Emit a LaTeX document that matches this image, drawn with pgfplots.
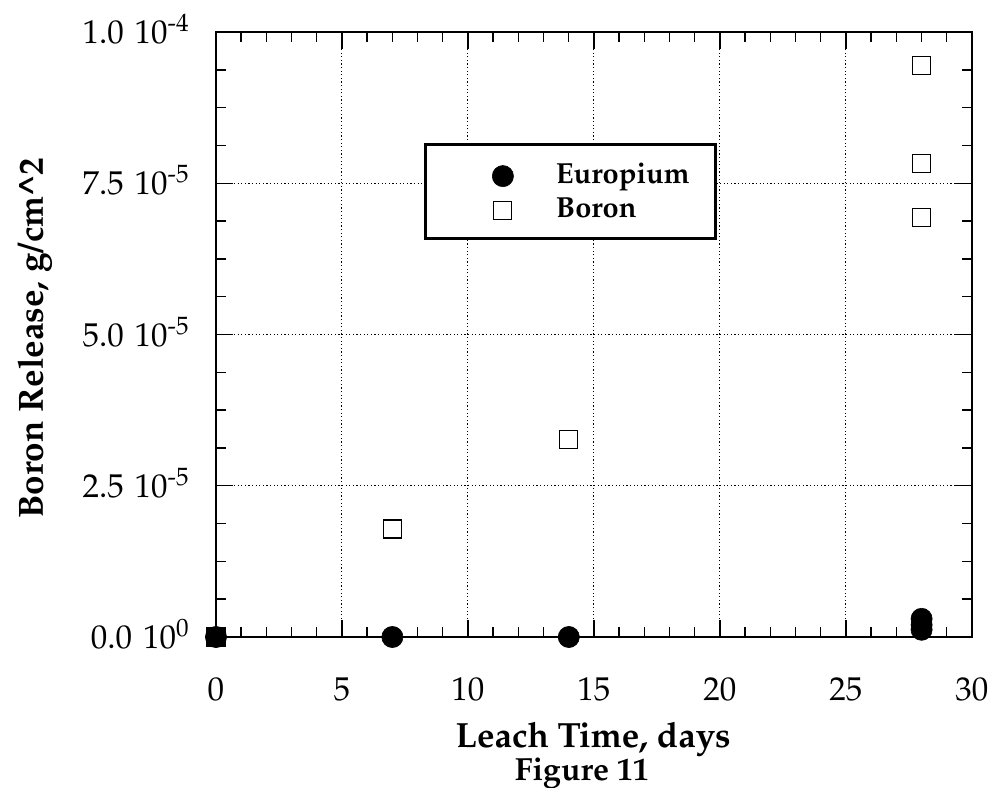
\documentclass[border=0pt]{standalone}
\usepackage[T1]{fontenc}
\usepackage{mathpazo}
\usepackage{pgfplots}
\pgfplotsset{compat=1.18}
\pgfplotsset{myleg/.style={legend image code/.code={\path (0pt,0pt) (38pt,0pt); \draw[##1] plot coordinates {(30pt,3.7pt)};}}}
\newcommand{\tl}[2]{#1\hspace{0.33em}10\textsuperscript{#2}}
\begin{document}
\begin{tikzpicture}
\begin{axis}[
  width=378pt, height=302.5pt, scale only axis,
  xmin=0, xmax=30, ymin=0, ymax=1e-4,
  xtick={0,5,10,15,20,25,30},
  ytick={0,2.5e-5,5e-5,7.5e-5,1e-4},
  yticklabels={\tl{0.0}{0}, \tl{2.5}{-5}, \tl{5.0}{-5}, \tl{7.5}{-5}, \tl{1.0}{-4}},
  scaled y ticks=false,
  minor x tick num=4, minor y tick num=3,
  tick align=inside,
  major tick length=8.5pt, minor tick length=5pt,
  tick style={black, line width=0.7pt},
  axis line style={line width=1pt},
  grid=major,
  major grid style={black, line width=0.5pt, dash pattern=on 0.6pt off 1.2pt},
  tick label style={font=\fontsize{16.5}{18}\selectfont},
  xticklabel style={inner sep=0pt, anchor=base, yshift=-31.5pt},
  yticklabel style={inner sep=0pt, anchor=base east, xshift=-13pt, yshift=-5.8pt},
  clip=false,
  legend style={at={(rel axis cs:0.275,0.8165)}, anchor=north west, draw=black,
    line width=1.5pt, inner xsep=8pt, inner ysep=6.5pt,
    font=\bfseries\fontsize{14.5}{17}\selectfont,
    nodes={anchor=base west, text height=11pt, text depth=2pt, inner ysep=2pt, inner xsep=4.8pt},
    row sep=0pt,
    /tikz/every odd column/.append style={column sep=13pt}},
]
\addplot[only marks, mark=*, black, mark size=5.3pt, mark options={line width=0.3pt}, myleg]
  coordinates {(0,0) (7,0) (14,0) (28,3.0e-6) (28,2.0e-6) (28,1.2e-6)};
\addlegendentry{Europium}
\addplot[only marks, mark=square, black, mark size=4.5pt, mark options={line width=0.6pt, solid}, myleg]
  coordinates {(0,0) (7,1.785e-5) (14,3.27e-5) (28,9.45e-5) (28,7.83e-5) (28,6.93e-5)};
\addlegendentry{Boron}
\addplot[only marks, mark=square*, black, mark size=4.75pt, forget plot]
  coordinates {(0,0)};
\node[rotate=90, anchor=base, inner sep=0pt, font=\bfseries\fontsize{17.5}{20}\selectfont]
  at ([xshift=-86.5pt]rel axis cs:0,0.494) {Boron Release, g/cm\textasciicircum 2};
\node[anchor=base, inner sep=0pt, font=\bfseries\fontsize{17.5}{20}\selectfont]
  at ([yshift=-55pt]rel axis cs:0.499,0) {Leach Time, days};
\node[anchor=base, inner sep=0pt, font=\bfseries\fontsize{16}{18}\selectfont]
  at ([yshift=-71.5pt]rel axis cs:0.484,0) {Figure 11};
\coordinate (O) at (rel axis cs:0,0);
\coordinate (T) at (rel axis cs:1,1);
\end{axis}
\pgfresetboundingbox
\path ([shift={(-108pt,-75.5pt)}]O) rectangle ([shift={(10pt,16pt)}]T);
\end{tikzpicture}
\end{document}
